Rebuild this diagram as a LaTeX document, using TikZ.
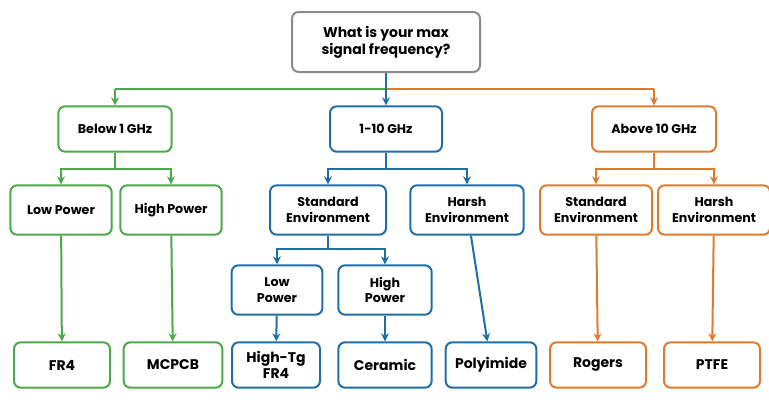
\documentclass[tikz,border=0pt]{standalone}
\usepackage{fontspec}
\setmainfont{Poppins}
\usetikzlibrary{arrows.meta}
\definecolor{cg}{HTML}{4DA84A}
\definecolor{cb}{HTML}{1F6EA6}
\definecolor{co}{HTML}{E07A2C}
\definecolor{cgr}{HTML}{8A8A8A}
\begin{document}
\begin{tikzpicture}[x=0.75pt,y=-0.75pt,
 box/.style={draw=#1,line width=1.5pt,rounded corners=5pt,fill=white,align=center,font=\fontsize{9.5}{11.5}\selectfont\bfseries,text=black,inner sep=0pt},
 ar/.style={draw=#1,line width=1.5pt,-{Stealth[length=6pt,width=6pt]}},
 ln/.style={draw=#1,line width=1.5pt}]
\useasboundingbox (0,0) rectangle (769,400);
\node[box=cgr,minimum width=141pt,minimum height=45pt,font=\fontsize{10.5}{13}\selectfont\bfseries] (root) at (386,42) {What is your max\\signal frequency?};
\node[box=cg,minimum width=85pt,minimum height=34pt] (a) at (115,129) {Below 1 GHz};
\node[box=cb,minimum width=84pt,minimum height=34pt] (b) at (386,129) {1-10 GHz};
\node[box=co,minimum width=93pt,minimum height=34pt] (c) at (654,129) {Above 10 GHz};
\node[box=cg,minimum width=76pt,minimum height=37pt] (a1) at (61,210) {Low Power};
\node[box=cg,minimum width=76pt,minimum height=37pt] (a2) at (171,210) {High Power};
\node[box=cb,minimum width=87pt,minimum height=37pt] (b1) at (328,210) {Standard\\Environment};
\node[box=cb,minimum width=85pt,minimum height=37pt] (b2) at (467,210) {Harsh\\Environment};
\node[box=co,minimum width=84pt,minimum height=37pt] (c1) at (596,210) {Standard\\Environment};
\node[box=co,minimum width=84pt,minimum height=37pt] (c2) at (714,210) {Harsh\\Environment};
\node[box=cb,minimum width=68pt,minimum height=37pt] (b11) at (277,290) {Low\\Power};
\node[box=cb,minimum width=70pt,minimum height=37pt] (b12) at (385,290) {High\\Power};
\foreach \n/\t/\x/\w/\c in {f1/FR4/62/72/cg, f2/MCPCB/173/74/cg, f3/{High-Tg\\FR4}/276/66/cb, f4/Ceramic/385/70/cb, f5/Polyimide/491/68/cb, f6/Rogers/598/72/co, f7/PTFE/712/72/co}
 \node[box=\c,minimum width=\w pt,minimum height=34pt,font=\fontsize{10.5}{12.5}\selectfont\bfseries] (\n) at (\x,365) {\t};
% level 1
\draw[ln=cg] (root.south) ++(0,16) coordinate (s0) -- (a.north |- s0);
\draw[ar=cg] (a.north |- s0) -- (a.north);
\draw[ln=co] (s0) -- (c.north |- s0);
\draw[ar=co] (c.north |- s0) -- (c.north);
\draw[ar=cb] (root.south) -- (b.north);
% level 2
\draw[ln=cg] (a.south) -- ++(0,16) coordinate (sa);
\draw[ar=cg] (sa) -| (a1.north); \draw[ar=cg] (sa) -| (a2.north);
\draw[ln=cb] (b.south) -- ++(0,16) coordinate (sb);
\draw[ar=cb] (sb) -| (b1.north); \draw[ar=cb] (sb) -| (b2.north);
\draw[ln=co] (c.south) -- ++(0,16) coordinate (sc);
\draw[ar=co] (sc) -| (c1.north); \draw[ar=co] (sc) -| (c2.north);
\draw[ln=cb] (b1.south) -- ++(0,13) coordinate (sd);
\draw[ar=cb] (sd) -| (b11.north); \draw[ar=cb] (sd) -| (b12.north);
% to leaves
\draw[ar=cg] (a1) -- (f1); \draw[ar=cg] (a2) -- (f2);
\draw[ar=cb] (b11) -- (f3); \draw[ar=cb] (b12) -- (f4);
\draw[ar=cb] (b2) -- (f5);
\draw[ar=co] (c1) -- (f6); \draw[ar=co] (c2) -- (f7);
\end{tikzpicture}
\end{document}
